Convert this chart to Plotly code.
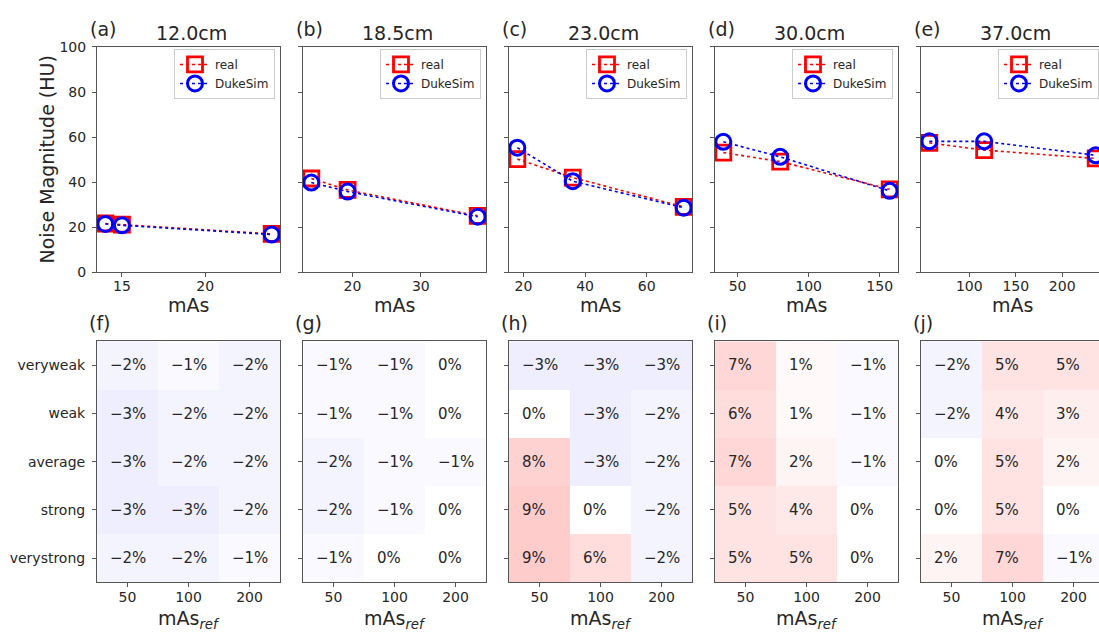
import plotly.graph_objects as go

# ---- data -------------------------------------------------------------
phantom_sizes = ["12.0cm", "18.5cm", "23.0cm", "30.0cm", "37.0cm"]
top_letters = ["(a)", "(b)", "(c)", "(d)", "(e)"]
bottom_letters = ["(f)", "(g)", "(h)", "(i)", "(j)"]

# tube current-time product per phantom
mas_a = [14, 15, 24]
mas_b = [14, 19.3, 38.3]
mas_c = [18, 36, 72]
mas_d = [40, 80, 157]
mas_e = [57, 116, 236]

# noise magnitude (HU)
real_a = [21.6, 21.1, 17.0]
duke_a = [21.4, 20.8, 16.7]
real_b = [41.6, 36.5, 25.0]
duke_b = [39.8, 35.8, 24.6]
real_c = [50.2, 42.0, 29.0]
duke_c = [55.3, 40.4, 28.6]
real_d = [53.1, 49.1, 36.8]
duke_d = [57.9, 51.2, 36.1]
real_e = [57.4, 54.2, 50.5]
duke_e = [58.1, 58.1, 51.9]

x_ticks_a = [15, 20]
x_ticks_b = [20, 30]
x_ticks_c = [20, 40, 60]
x_ticks_d = [50, 100, 150]
x_ticks_e = [100, 150, 200]
y_ticks_top = [0, 20, 40, 60, 80, 100]

# relative noise difference (%) by kernel strength and reference mAs
strength_levels = ["veryweak", "weak", "average", "strong", "verystrong"]
mas_ref_levels = ["50", "100", "200"]
diff_f = [[-2, -1, -2], [-3, -2, -2], [-3, -2, -2], [-3, -3, -2], [-2, -2, -1]]
diff_g = [[-1, -1, 0], [-1, -1, 0], [-2, -1, -1], [-2, -1, 0], [-1, 0, 0]]
diff_h = [[-3, -3, -3], [0, -3, -2], [8, -3, -2], [9, 0, -2], [9, 6, -2]]
diff_i = [[7, 1, -1], [6, 1, -1], [7, 2, -1], [5, 4, 0], [5, 5, 0]]
diff_j = [[-2, 5, 5], [-2, 4, 3], [0, 5, 2], [0, 5, 0], [2, 7, -1]]

# ---- layout geometry (pixels) ----------------------------------------
W, H = 1099, 633
col_left = [97, 303, 509, 715, 921]
col_w = 183
top_y = (40, 271)
bot_y = (342, 589)

FONT = "DejaVu Sans"
TXT = "#262626"
SPINE = "#555555"
RED = "#ff0000"
BLUE = "#0000ff"


def px(x):
    return x / W


def py(y):
    return 1 - y / H


def padded(vals, frac=0.05):
    lo, hi = min(vals), max(vals)
    m = (hi - lo) * frac
    return lo - m, hi + m


mas_sets = [mas_a, mas_b, mas_c, mas_d, mas_e]
real_sets = [real_a, real_b, real_c, real_d, real_e]
duke_sets = [duke_a, duke_b, duke_c, duke_d, duke_e]
xtick_sets = [x_ticks_a, x_ticks_b, x_ticks_c, x_ticks_d, x_ticks_e]
diff_sets = [diff_f, diff_g, diff_h, diff_i, diff_j]

bwr = [[0.0, "rgb(0,0,255)"], [0.5, "rgb(255,255,255)"], [1.0, "rgb(255,0,0)"]]

col_idx = list(range(len(mas_ref_levels)))
row_idx = list(range(len(strength_levels)))

fig = go.Figure()
layout = dict(
    width=W, height=H,
    margin=dict(l=0, r=0, t=0, b=0),
    paper_bgcolor="white", plot_bgcolor="white",
    font=dict(family=FONT, color=TXT, size=14),
    showlegend=True,
)
annotations = []

axis_common = dict(
    showline=True, linecolor=SPINE, linewidth=1,
    ticks="outside", ticklen=4, tickwidth=1, tickcolor=SPINE,
    showgrid=False, zeroline=False,
    tickfont=dict(family=FONT, size=14, color=TXT),
)

for k in range(5):
    left = col_left[k]
    right_full = left + col_w
    right = min(right_full, W)
    visible = (right - left) / col_w

    # ---------------- top row: noise vs mAs ----------------
    ti = k + 1
    xa = "x" if ti == 1 else f"x{ti}"
    ya = "y" if ti == 1 else f"y{ti}"
    leg = "legend" if ti == 1 else f"legend{ti}"
    lo, hi = padded(mas_sets[k])
    hi_vis = lo + (hi - lo) * visible

    fig.add_trace(go.Scatter(
        x=mas_sets[k], y=real_sets[k], name="real", mode="lines+markers",
        xaxis=xa, yaxis=ya, legend=leg, cliponaxis=True,
        line=dict(color=RED, width=1.6, dash="dot"),
        marker=dict(symbol="square-open", size=15, color=RED,
                    line=dict(color=RED, width=2.8)),
    ))
    fig.add_trace(go.Scatter(
        x=mas_sets[k], y=duke_sets[k], name="DukeSim", mode="lines+markers",
        xaxis=xa, yaxis=ya, legend=leg, cliponaxis=True,
        line=dict(color=BLUE, width=1.6, dash="dot"),
        marker=dict(symbol="circle-open", size=15, color=BLUE,
                    line=dict(color=BLUE, width=3)),
    ))

    xkey = "xaxis" if ti == 1 else f"xaxis{ti}"
    ykey = "yaxis" if ti == 1 else f"yaxis{ti}"
    layout[xkey] = dict(axis_common, domain=[px(left), px(right)],
                        anchor=ya, range=[lo, hi_vis], mirror=True,
                        tickvals=xtick_sets[k], ticklabelstandoff=-3)
    layout[ykey] = dict(axis_common, domain=[py(top_y[1]), py(top_y[0])],
                        anchor=xa, range=[0, 100], mirror=(k < 4),
                        tickvals=y_ticks_top, showticklabels=(k == 0),
                        ticklabelstandoff=3)
    layout[leg] = dict(
        x=px(right_full - 5), y=py(top_y[0] + 2), xanchor="right", yanchor="top",
        xref="paper", yref="paper",
        bgcolor="rgba(255,255,255,0.85)", bordercolor="#cccccc", borderwidth=1,
        font=dict(family=FONT, size=12, color=TXT),
        itemsizing="trace", tracegroupgap=0,
    )

    cx = (left + right_full) / 2
    annotations.append(dict(text=phantom_sizes[k], x=px(cx + 3), y=py(26),
                            xref="paper", yref="paper", showarrow=False,
                            xanchor="center", yanchor="middle",
                            font=dict(size=19, family=FONT, color=TXT)))
    annotations.append(dict(text=top_letters[k], x=px(left - 9), y=py(22),
                            xref="paper", yref="paper", showarrow=False,
                            xanchor="left", yanchor="middle",
                            font=dict(size=19, family=FONT, color=TXT)))
    annotations.append(dict(text="mAs", x=px(cx), y=py(305),
                            xref="paper", yref="paper", showarrow=False,
                            xanchor="center", yanchor="middle",
                            font=dict(size=19, family=FONT, color=TXT)))

    # ---------------- bottom row: difference heatmaps ----------------
    bi = k + 6
    xb = f"x{bi}"
    yb = f"y{bi}"
    fig.add_trace(go.Heatmap(
        z=diff_sets[k], x=col_idx, y=row_idx,
        xaxis=xb, yaxis=yb, colorscale=bwr, zmin=-45, zmax=45,
        showscale=False, hoverinfo="skip",
    ))
    layout[f"xaxis{bi}"] = dict(axis_common, domain=[px(left), px(right)],
                                anchor=yb, range=[-0.5, -0.5 + 3 * visible],
                                mirror=True, tickvals=col_idx,
                                ticktext=mas_ref_levels, ticklabelstandoff=-2)
    layout[f"yaxis{bi}"] = dict(axis_common, domain=[py(bot_y[1]), py(bot_y[0])],
                                anchor=xb, range=[4.5, -0.5], mirror=(k < 4),
                                tickvals=row_idx, ticktext=strength_levels,
                                showticklabels=(k == 0), ticklabelstandoff=4)
    for r in row_idx:
        for c in col_idx:
            v = diff_sets[k][r][c]
            annotations.append(dict(
                text=f"{v}%".replace("-", "\u2212"),
                x=c, y=r, xref=xb, yref=yb,
                showarrow=False, xanchor="left", yanchor="middle",
                xshift=-20, font=dict(size=15, family=FONT, color=TXT),
            ))
    annotations.append(dict(text=bottom_letters[k], x=px(left - 10), y=py(323),
                            xref="paper", yref="paper", showarrow=False,
                            xanchor="left", yanchor="middle",
                            font=dict(size=19, family=FONT, color=TXT)))
    annotations.append(dict(text="mAs<sub><i>ref</i></sub>", x=px(cx), y=py(627),
                            xref="paper", yref="paper", showarrow=False,
                            xanchor="center", yanchor="middle",
                            font=dict(size=19, family=FONT, color=TXT)))

annotations.append(dict(text="Noise Magnitude (HU)", x=px(47), y=py(155.5),
                        xref="paper", yref="paper", showarrow=False,
                        textangle=-90, xanchor="center", yanchor="middle",
                        font=dict(size=19, family=FONT, color=TXT)))

layout["annotations"] = annotations
fig.update_layout(**layout)
fig.write_html("out.html")
